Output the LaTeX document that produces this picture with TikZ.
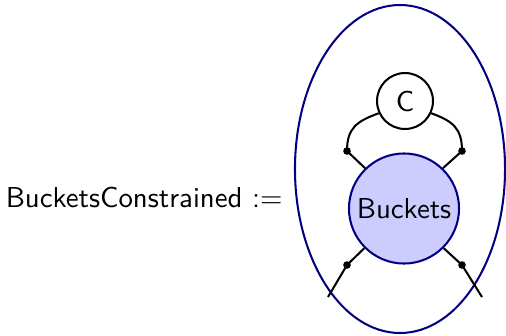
\documentclass[tikz,border=0pt]{standalone}
\usetikzlibrary{shapes.geometric}
\begin{document}
\begin{tikzpicture}[x=0.368pt, y=-0.368pt]
\tikzset{
    letra/.style={font=\fontsize{10.6}{12.7}\selectfont\sffamily},
    fio/.style={-, line width=0.75pt, black},
    contorno/.style={ellipse, line width=0.75pt, draw=blue!50!black,
                     minimum width=77.3pt, minimum height=120.7pt, inner sep=0pt},
    balde/.style={circle, line width=0.75pt, draw=blue!50!black, fill=blue!20,
                  minimum size=40.5pt, inner sep=0pt, letra},
    caixa/.style={circle, line width=0.75pt, draw=black,
                  minimum size=20.6pt, inner sep=0pt, letra},
    ponto/.style={circle, fill=black, inner sep=0pt, minimum size=2.8pt}
}
\useasboundingbox (0,0) rectangle (506,335);

% Nome da definição
\node[letra, anchor=base east, inner sep=0pt] (nome) at (283,207) {BucketsConstrained :=};

% Contorno e nós
\node[contorno] (fora) at (400,169) {};
\node[balde]    (bk)   at (404,208.5) {Buckets};
\node[caixa]    (cc)   at (405,101) {C};

% Pontos de ligação
\node[ponto] (pl) at (347,151) {};
\node[ponto] (pr) at (462,151) {};
\node[ponto] (ql) at (347,265) {};
\node[ponto] (qr) at (462,265) {};
\coordinate (el) at (328,297);
\coordinate (er) at (482,297);

% Ligações de cima
\draw[fio] (cc.205) to[out=200, in=90, looseness=1.2] (pl.center) -- (bk.134);
\draw[fio] (cc.-25) to[out=-20, in=90, looseness=1.2] (pr.center) -- (bk.46);

% Ligações de baixo
\draw[fio] (bk.225) -- (ql.center) -- (el);
\draw[fio] (bk.315) -- (qr.center) -- (er);
\end{tikzpicture}
\end{document}
